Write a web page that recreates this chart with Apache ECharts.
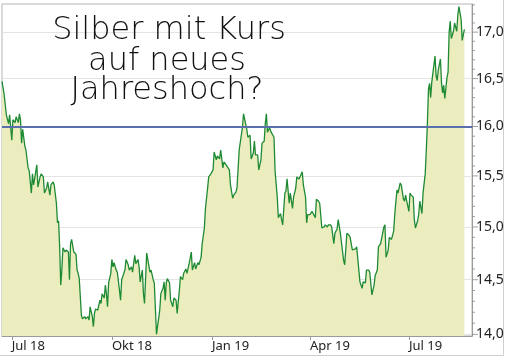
<!DOCTYPE html>
<html>
<head>
<meta charset="utf-8">
<script src="https://cdn.jsdelivr.net/npm/echarts@6/dist/echarts.min.js"></script>
<style>
html,body{margin:0;padding:0;background:#fff;}
#c{width:506px;height:357px;}
</style>
</head>
<body>
<div id="c"></div>
<script>
// ---- data ----
const dates = [
'2018-06-22','2018-06-24','2018-06-26','2018-06-28','2018-06-29','2018-07-01','2018-07-02','2018-07-04','2018-07-05','2018-07-07',
'2018-07-08','2018-07-09','2018-07-10','2018-07-11','2018-07-13','2018-07-14','2018-07-16','2018-07-17','2018-07-19','2018-07-20',
'2018-07-21','2018-07-22','2018-07-24','2018-07-25','2018-07-27','2018-07-28','2018-07-30','2018-07-31','2018-08-02','2018-08-03',
'2018-08-05','2018-08-06','2018-08-08','2018-08-09','2018-08-11','2018-08-12','2018-08-13','2018-08-14','2018-08-15','2018-08-16',
'2018-08-17','2018-08-19','2018-08-20','2018-08-22','2018-08-23','2018-08-24','2018-08-25','2018-08-27','2018-08-29','2018-08-30',
'2018-08-31','2018-09-01','2018-09-03','2018-09-04','2018-09-06','2018-09-07','2018-09-09','2018-09-10','2018-09-11','2018-09-13',
'2018-09-14','2018-09-15','2018-09-16','2018-09-18','2018-09-20','2018-09-21','2018-09-22','2018-09-24','2018-09-25','2018-09-26',
'2018-09-27','2018-09-28','2018-09-30','2018-10-01','2018-10-02','2018-10-03','2018-10-05','2018-10-06','2018-10-08','2018-10-09',
'2018-10-10','2018-10-11','2018-10-13','2018-10-14','2018-10-16','2018-10-17','2018-10-19','2018-10-20','2018-10-22','2018-10-23',
'2018-10-25','2018-10-26','2018-10-27','2018-10-29','2018-10-30','2018-10-31','2018-11-02','2018-11-03','2018-11-05','2018-11-06',
'2018-11-08','2018-11-09','2018-11-11','2018-11-12','2018-11-14','2018-11-15','2018-11-17','2018-11-18','2018-11-19','2018-11-20',
'2018-11-21','2018-11-23','2018-11-24','2018-11-26','2018-11-27','2018-11-29','2018-11-30','2018-12-02','2018-12-03','2018-12-05',
'2018-12-06','2018-12-08','2018-12-09','2018-12-11','2018-12-13','2018-12-14','2018-12-16','2018-12-17','2018-12-19','2018-12-20',
'2018-12-22','2018-12-23','2018-12-25','2018-12-26','2018-12-28','2018-12-29','2018-12-31','2019-01-02','2019-01-03','2019-01-05',
'2019-01-06','2019-01-08','2019-01-09','2019-01-11','2019-01-12','2019-01-14','2019-01-15','2019-01-17','2019-01-18','2019-01-20',
'2019-01-21','2019-01-23','2019-01-24','2019-01-26','2019-01-27','2019-01-29','2019-01-30','2019-01-31','2019-02-02','2019-02-03',
'2019-02-05','2019-02-06','2019-02-08','2019-02-09','2019-02-10','2019-02-12','2019-02-13','2019-02-15','2019-02-16','2019-02-18',
'2019-02-19','2019-02-20','2019-02-21','2019-02-23','2019-02-24','2019-02-25','2019-02-27','2019-02-28','2019-03-02','2019-03-03',
'2019-03-05','2019-03-06','2019-03-07','2019-03-09','2019-03-10','2019-03-11','2019-03-13','2019-03-14','2019-03-16','2019-03-17',
'2019-03-19','2019-03-20','2019-03-22','2019-03-23','2019-03-25','2019-03-26','2019-03-28','2019-03-29','2019-03-30','2019-04-01',
'2019-04-03','2019-04-04','2019-04-06','2019-04-07','2019-04-09','2019-04-10','2019-04-12','2019-04-14','2019-04-15','2019-04-17',
'2019-04-18','2019-04-20','2019-04-21','2019-04-23','2019-04-24','2019-04-26','2019-04-27','2019-04-29','2019-04-30','2019-05-02',
'2019-05-03','2019-05-05','2019-05-07','2019-05-08','2019-05-10','2019-05-11','2019-05-13','2019-05-14','2019-05-16','2019-05-17',
'2019-05-19','2019-05-20','2019-05-22','2019-05-23','2019-05-25','2019-05-26','2019-05-28','2019-05-30','2019-05-31','2019-06-02',
'2019-06-03','2019-06-05','2019-06-06','2019-06-08','2019-06-09','2019-06-10','2019-06-12','2019-06-13','2019-06-15','2019-06-17',
'2019-06-18','2019-06-20','2019-06-21','2019-06-23','2019-06-24','2019-06-26','2019-06-27','2019-06-28','2019-06-29','2019-07-01',
'2019-07-02','2019-07-03','2019-07-05','2019-07-06','2019-07-07','2019-07-09','2019-07-10','2019-07-11','2019-07-13','2019-07-14',
'2019-07-16','2019-07-17','2019-07-18','2019-07-19','2019-07-20','2019-07-21','2019-07-22','2019-07-23','2019-07-25','2019-07-26',
'2019-07-27','2019-07-28','2019-07-30','2019-07-31','2019-08-01','2019-08-02','2019-08-03','2019-08-05','2019-08-06','2019-08-07',
'2019-08-08','2019-08-09','2019-08-11','2019-08-12','2019-08-14','2019-08-15','2019-08-16','2019-08-17','2019-08-18','2019-08-19',
'2019-08-21'
];
const prices = [
16.47,16.33,16.12,16.03,16.12,15.86,16.07,16.04,16.10,16.04,
16.13,16.07,15.83,15.97,15.80,15.76,15.58,15.55,15.33,15.52,
15.41,15.47,15.61,15.39,15.49,15.52,15.49,15.33,15.38,15.44,
15.31,15.41,15.44,15.41,15.23,15.04,15.06,14.81,14.45,14.59,
14.80,14.76,14.78,14.76,14.50,14.84,14.88,14.76,14.74,14.59,
14.56,14.51,14.17,14.14,14.16,14.14,14.16,14.13,14.25,14.16,
14.07,14.19,14.23,14.22,14.31,14.28,14.37,14.33,14.45,14.37,
14.25,14.47,14.56,14.69,14.62,14.66,14.59,14.57,14.40,14.31,
14.50,14.53,14.59,14.69,14.64,14.59,14.62,14.57,14.73,14.65,
14.69,14.62,14.48,14.59,14.37,14.28,14.75,14.75,14.57,14.59,
14.50,14.47,14.00,13.99,14.22,14.37,14.42,14.48,14.31,14.47,
14.51,14.47,14.31,14.25,14.33,14.31,14.19,14.40,14.53,14.50,
14.56,14.60,14.56,14.65,14.76,14.59,14.66,14.60,14.66,14.64,
14.71,14.84,14.99,15.18,15.38,15.49,15.52,15.56,15.74,15.66,
15.70,15.67,15.76,15.58,15.64,15.61,15.59,15.56,15.41,15.28,
15.31,15.34,15.38,15.76,15.78,15.99,16.13,16.13,15.97,15.89,
15.91,15.67,15.73,15.85,15.71,15.71,15.56,15.66,15.83,15.85,
16.03,16.13,15.94,15.99,15.95,15.97,15.89,15.55,15.29,15.09,
15.13,15.07,15.02,15.33,15.35,15.47,15.23,15.33,15.18,15.29,
15.38,15.49,15.47,15.48,15.54,15.41,15.29,15.04,15.12,15.12,
15.15,15.15,15.09,15.27,15.25,15.23,14.99,15.00,15.02,15.00,
15.02,15.02,15.00,14.84,14.94,14.98,15.07,14.94,14.95,14.68,
14.64,14.94,14.92,14.90,14.78,14.78,14.79,14.81,14.59,14.48,
14.42,14.48,14.47,14.59,14.59,14.57,14.36,14.45,14.54,14.59,
14.81,14.84,14.84,15.00,15.02,14.71,14.78,14.90,14.88,14.96,
15.12,15.36,15.33,15.43,15.41,15.27,15.25,15.31,15.25,15.15,
15.33,15.31,15.29,15.07,14.99,15.06,15.12,15.25,15.13,15.33,
15.52,15.76,16.03,16.39,16.45,16.30,16.46,16.48,16.74,16.53,
16.48,16.59,16.71,16.45,16.35,16.43,16.29,16.51,16.57,17.00,
17.12,16.93,17.01,17.10,17.01,17.19,17.28,17.28,17.14,16.91,
17.03
];
const xTickDates = ['2018-07-01','2018-10-01','2019-01-01','2019-04-01','2019-07-01'];
const monthNames = ['Jan','Feb','Mär','Apr','Mai','Jun','Jul','Aug','Sep','Okt','Nov','Dez'];
const yMajorTicks = [14.0,14.5,15.0,15.5,16.0,16.5,17.0];
const yMinorTicks = [14.1,14.2,14.3,14.4,14.6,14.7,14.8,14.9,15.1,15.2,15.3,15.4,15.6,15.7,15.8,15.9,16.1,16.2,16.3,16.4,16.6,16.7,16.8,16.9,17.1,17.2,17.3];
const thresholdLine = 16.0;
const xMin = '2018-06-22';
const xMax = '2019-08-28';
const yMin = 13.985;
const yMax = 17.31;
const titleLines = ['Silber mit Kurs', 'auf neues', 'Jahreshoch?'];

// ---- chart ----
const ts = s => Date.parse(s + 'T00:00:00Z');
const seriesData = dates.map((d, i) => [ts(d), prices[i]]);
const xTickTs = xTickDates.map(ts);
const xMinTs = ts(xMin), xMaxTs = ts(xMax);
const fmtNum = v => Number(v).toFixed(1).replace('.', ',');
const chart = echarts.init(document.getElementById('c'), null, {renderer: 'canvas'});
const titleFont = '200 32px "DejaVu Sans", "Open Sans", sans-serif';

const option = {
  animation: false,
  backgroundColor: '#ffffff',
  grid: {
    left: 2, right: 34, top: 4, bottom: 21,
    show: true, borderColor: '#b4b4b4', borderWidth: 1, backgroundColor: '#ffffff'
  },
  xAxis: {
    type: 'value',
    min: xMinTs, max: xMaxTs,
    axisLine: {show: true, lineStyle: {color: '#9a9a9a', width: 1}},
    axisTick: {show: true, length: 4, lineStyle: {color: '#9a9a9a'}, customValues: xTickTs},
    axisLabel: {
      customValues: xTickTs,
      align: 'left',
      margin: 4,
      fontSize: 13,
      fontFamily: 'Noto Sans',
      color: '#222',
      formatter: function (val) {
        const d = new Date(val);
        return monthNames[d.getUTCMonth()] + ' ' + String(d.getUTCFullYear()).slice(2);
      }
    },
    splitLine: {show: false}
  },
  yAxis: {
    type: 'log',
    logBase: 10,
    position: 'right',
    min: yMin, max: yMax,
    axisLine: {show: true, lineStyle: {color: '#9a9a9a', width: 1}},
    axisTick: {show: false},
    axisLabel: {show: false},
    splitLine: {show: false}
  },
  series: [
    {
      // grid lines + right-hand labels, drawn behind the area
      type: 'scatter',
      z: 1,
      clip: false,
      symbol: 'rect',
      symbolSize: [6, 1],
      symbolOffset: [3, 0],
      itemStyle: {color: '#8a8a8a'},
      silent: true,
      data: yMajorTicks.map(v => [xMaxTs, v]),
      markLine: {
        z: 1,
        silent: true,
        symbol: ['none', 'none'],
        animation: false,
        lineStyle: {color: '#e4e4e4', width: 1, type: 'solid'},
        label: {
          show: true,
          position: 'end',
          distance: 4,
          fontSize: 14,
          fontFamily: 'Noto Sans',
          color: '#222',
          formatter: p => fmtNum(p.value)
        },
        emphasis: {disabled: true},
        data: yMajorTicks.map(v => ({yAxis: v}))
      }
    },
    {
      type: 'scatter',
      z: 1,
      clip: false,
      symbol: 'rect',
      symbolSize: [3, 1],
      symbolOffset: [1.5, 0],
      itemStyle: {color: '#8a8a8a'},
      silent: true,
      data: yMinorTicks.map(v => [xMaxTs, v])
    },
    {
      type: 'line',
      z: 3,
      data: seriesData,
      showSymbol: false,
      symbol: 'none',
      lineStyle: {color: '#1f8a34', width: 1.3},
      areaStyle: {color: '#ebedbf', opacity: 1, origin: 'start'},
      silent: true,
      markLine: {
        z: 6,
        silent: true,
        symbol: ['none', 'none'],
        animation: false,
        lineStyle: {color: '#5a70ad', width: 2, type: 'solid'},
        label: {show: false},
        emphasis: {disabled: true},
        data: [{yAxis: thresholdLine}]
      }
    }
  ],
  graphic: [
    {type: 'line', silent: true, shape: {x1: 503.5, y1: 0, x2: 503.5, y2: 355.5}, style: {stroke: '#cfcfcf', lineWidth: 1}},
    {type: 'line', silent: true, shape: {x1: 0, y1: 355.5, x2: 503.5, y2: 355.5}, style: {stroke: '#cfcfcf', lineWidth: 1}},
    {type: 'text', silent: true, z: 10, x: 169, y: 31,
      style: {text: titleLines[0], font: titleFont, fill: '#111', align: 'center', verticalAlign: 'middle'}},
    {type: 'text', silent: true, z: 10, x: 167, y: 62,
      style: {text: titleLines[1], font: titleFont, fill: '#111', align: 'center', verticalAlign: 'middle'}},
    {type: 'text', silent: true, z: 10, x: 167, y: 91,
      style: {text: titleLines[2], font: titleFont, fill: '#111', align: 'center', verticalAlign: 'middle'}}
  ]
};
chart.setOption(option);
</script>
</body>
</html>
